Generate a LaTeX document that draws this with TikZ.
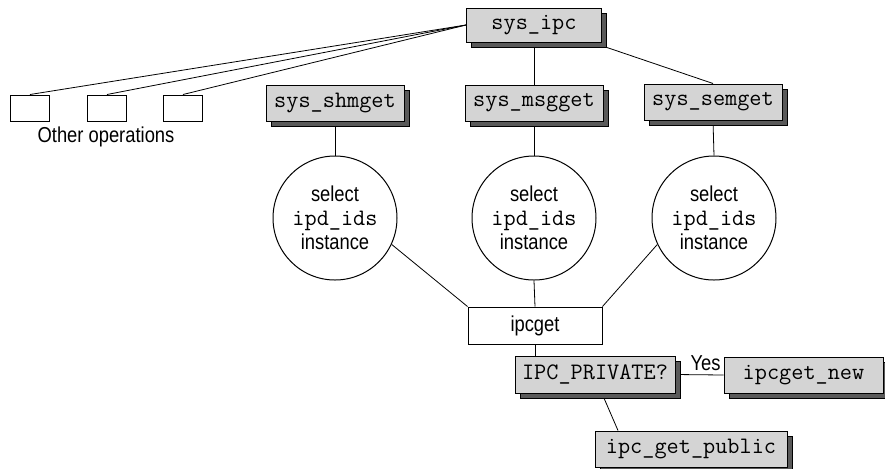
\documentclass[tikz,border=0pt]{standalone}
\usepackage{fontspec}
\setmainfont{Liberation Sans}[FakeStretch=0.85]
\usetikzlibrary{shadows,backgrounds}
\newcommand{\ipdids}{{\fontsize{11.8}{12}\selectfont\ttfamily ipd\_ids}}
\tikzset{
	grybox/.style={draw, fill=black!17, inner sep=0pt, minimum height=18pt,
		font=\fontsize{11.8}{12}\selectfont\ttfamily,
		drop shadow={shadow xshift=2.5pt, shadow yshift=-2.5pt, fill=black!65, draw=black, opacity=1}},
	whtbox/.style={draw, fill=white, inner sep=0pt},
	selcirc/.style={draw, fill=white, circle, minimum size=62pt, inner sep=0pt, align=center,
		font=\fontsize{10.8}{12}\selectfont}
}
\begin{document}
\begin{tikzpicture}[x=0.5pt, y=-0.5pt, line width=0.5pt, font=\fontsize{10.8}{12}\selectfont]
		\useasboundingbox (0,0) rectangle (885,468);
		\node[grybox, minimum width=67.5pt, minimum height=17pt] (sysipc) at (534,25) {sys\_ipc};
		\node[grybox, minimum width=69pt] (shmget) at (335,103) {sys\_shmget};
		\node[grybox, minimum width=69pt] (msgget) at (534,103) {sys\_msgget};
		\node[grybox, minimum width=69pt] (semget) at (713,102) {sys\_semget};
		\foreach \x [count=\i] in {30,107,183}
			\node[whtbox, minimum width=19.5pt, minimum height=13pt] (op\i) at (\x,108) {};
		\node (othop) at (106,137) {Other operations};
		\node[selcirc] (selshm) at (335,218) {select\\\ipdids\\instance};
		\node[selcirc] (selmsg) at (534,218) {select\\\ipdids\\instance};
		\node[selcirc] (selsem) at (714,218) {select\\\ipdids\\instance};
		\node[whtbox, minimum width=67pt, minimum height=18.5pt] (ipcget) at (535,325.5) {ipcget};
		\node[grybox, minimum width=80pt, minimum height=18.5pt] (privq) at (595,374.5) {IPC\_PRIVATE?};
		\node[grybox, minimum width=79.5pt] (ipcnew) at (803.5,375) {ipcget\_new};
		\node[grybox, minimum width=96pt] (ipcpub) at (691,449) {ipc\_get\_public};
		\begin{pgfonlayer}{background}
			\foreach \i in {1,2,3}
				\draw (sysipc.west) -- (op\i.north);
			\draw (sysipc.south) -- (msgget.north);
			\draw ([shift={(2.5pt,-2.5pt)}]sysipc.south east) -- (semget.north);
			\draw (shmget.south) -- (selshm.north);
			\draw (msgget.south) -- (selmsg.north);
			\draw (semget.south) -- (selsem.north);
			\draw (selshm.-25) -- (ipcget.north west);
			\draw (selmsg.south) -- (ipcget.north);
			\draw (selsem.-155) -- (ipcget.north east);
			\draw (ipcget.south) -- (ipcget.south |- privq.north);
			\draw (privq.east) -- node[above, inner sep=2pt, xshift=3pt] {Yes} (ipcnew.west);
			\draw ([xshift=3.5pt]privq.south) -- ([xshift=-36.5pt]ipcpub.north);
		\end{pgfonlayer}
	\end{tikzpicture}
\end{document}
